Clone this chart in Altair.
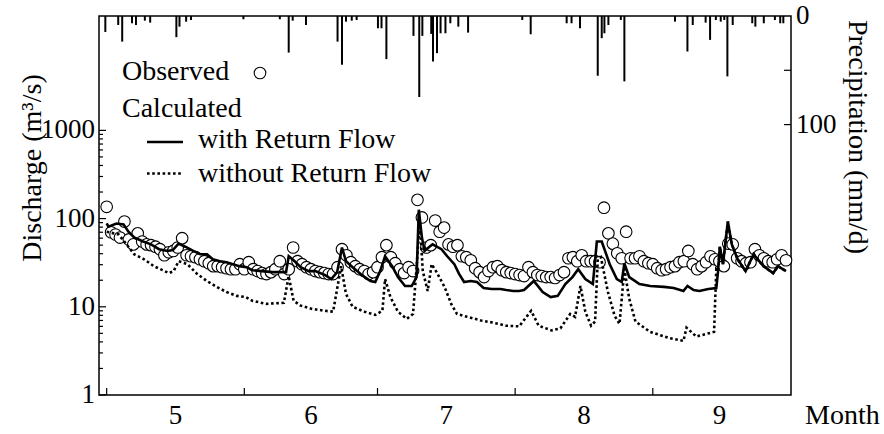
import altair as alt
import pandas as pd

FONT = "Liberation Serif"

# ---------------- data (day 0 = 1 May) ----------------
obs_day = list(range(0, 154))
obs_q = [136, 70, 66, 61, 92.5, 58, 51, 68, 55, 51, 50, 48, 45, 38.4, 41.5, 43, 47, 60, 38.4, 37.4,
         36.5, 34.6, 32.9, 31.2, 28.9, 28.9, 28.1, 27.4, 26.7, 26.7, 30.4,
         26.7, 32, 26.7, 25.4, 24.1, 23.5, 24.7, 26.7, 32.9, 23.5, 26.7, 47, 32.9, 30.4, 28.1,
         26.7, 25.4, 24.7, 24.1, 23.5, 23.5, 28.1, 45, 38.4, 32, 28.9, 26.7, 25.4, 23.5, 24.7,
         28.1, 36.5, 50, 36.5, 31.2, 26.7, 24.1, 28.1, 25.4, 163, 103, 47, 50, 95, 71, 79,
         51, 48, 50, 37.4, 36.5, 33.7, 27.4, 24.7, 21.7, 25.4, 28.1, 28.9, 26, 24.7, 24.1,
         23.5, 22.9, 22.3, 28.1, 24.7, 22.9, 22.3, 21.7, 21.7, 21.2, 22.9, 24.7, 35.5, 36.5, 32.9,
         38.4, 32.9, 32.9, 32.9, 32, 133, 68, 52, 40.4, 35.5, 71, 35.5, 35.5, 37.4, 32.9, 31.2,
         30.4, 27.4, 26, 26.7, 28.1, 28.9, 32, 32.9, 43, 30.4, 26.7, 28.9, 32, 37.4, 34.6, 32.9,
         28.9, 52, 51, 35.5, 32.9, 31.2, 32, 45, 38.4, 35.5, 32.9, 32, 34.6, 38.4, 33.7]

with_day = [0, 0.4, 2.2, 3.8, 4.9, 6.2, 8.2, 10, 11.8, 13.7, 14.9, 16.2, 17.7, 19.5, 21.1,
            22.6, 23.9, 25.5, 27, 28.4, 29.9, 31.5, 32.8, 35, 37.3, 40.4, 41, 42.1, 43.7, 45.5,
            47, 49.2, 50.6, 51.9, 53, 53.9, 55.4, 57.2, 59.4, 60.5, 61.6, 62.7, 64.3, 65.6, 67.2,
            68.7, 69.8, 70.3, 71, 71.6, 72.7, 73.4, 75.4, 76.7, 78.3, 79.4, 80.5, 82, 83.4, 84.9,
            86.7, 88.7, 90, 91.6, 92.9, 94, 96.2, 98.2, 100, 101.6, 103.3, 104.9, 106.2, 107.8, 109.5,
            110.4, 111.5, 113.3, 114.9, 116, 116.6, 117.7, 120, 122.4, 125.5, 127.7, 129.9, 130.8,
            132.2, 133.5, 135.5, 137.3, 137.7, 138.1, 138.8, 139.9, 140.8, 142.1, 143.9, 145.7,
            147.9, 150.1, 151.2, 153]
with_q = [88, 81, 88, 86, 71, 61, 55, 51, 45, 43, 44, 52, 48, 43, 39.4, 39.4, 34.6, 32.9, 32,
          30.4, 28.9, 28.1, 26, 25.4, 24.7, 24.7, 37.4, 33.7, 28.1, 25.4, 25.4, 22.9, 20.6, 24.7,
          47, 32.9, 28.1, 23.5, 19.6, 19.1, 25.4, 37.4, 28.9, 21.7, 17.2, 17.2, 21.7, 126, 61, 43,
          48, 51, 45, 37.4, 30.4, 23.5, 19.1, 19.6, 19.1, 16.3, 15.9, 15.9, 15.5, 15.1, 15.1, 15.5,
          19.6, 14.7, 12.9, 13.3, 18.1, 21.7, 26.7, 20.6, 18.1, 55, 55, 30.4, 20.6, 19.1, 31, 21.7,
          18.1, 17.2, 16.8, 16.3, 15.1, 17.2, 15.5, 15.1, 15.9, 16.3, 25.4, 48, 30.4, 92.5, 51,
          34.6, 25.4, 39.4, 28.9, 24.1, 28.9, 25.4]

wo_day = [0, 2.7, 4.9, 6.2, 8.4, 10.6, 12.6, 14, 15.1, 16.2, 18.2, 20.4, 22.6, 24.8, 27, 29.3,
          31.3, 32.8, 35.9, 39.9, 41, 42.1, 43.7, 46.1, 49.2, 51, 52.1, 52.8, 53.9, 55.4, 58.1,
          60.5, 62.1, 62.7, 63.9, 65.6, 67.6, 69, 69.8, 70.5, 71.2, 72.3, 73.2, 74.3, 76.1, 77.6,
          78.9, 81.2, 84.3, 87.1, 90, 92.9, 95.6, 97.3, 100.2, 102.2, 104.4, 105.5, 106.7, 107.8,
          109.1, 110, 110.6, 111.3, 112.9, 114.4, 115.5, 116.6, 117.7, 119.1, 122.4, 126.8, 129.9,
          130.6, 132.8, 136.8, 137.3, 137.7, 138.1, 138.8, 139.9, 140.8, 142.1, 143.9, 145.7,
          147.9, 150.1, 151.2, 153]
wo_q = [71, 66, 48, 39.4, 34.6, 28.9, 26, 24.1, 25.4, 32.9, 30.4, 23.5, 19.6, 16.8, 14.7, 13.3,
        12.9, 11.7, 10.8, 11.1, 22.3, 11.7, 10.3, 9.5, 9.0, 8.8, 18.1, 28.9, 14, 10, 8.8, 8.1, 9.0,
        20.6, 12.9, 8.8, 7.3, 8.3, 28.1, 97, 25.4, 15.1, 30.4, 24.7, 16.8, 10.8, 8.3, 7.7, 7.0, 6.6,
        6.1, 6.0, 9.0, 6.1, 5.4, 5.7, 8.3, 7.7, 17.2, 8.8, 6.1, 6.8, 34.6, 36.5, 14.7, 7.9, 6.4,
        26.7, 12.3, 6.8, 5.2, 4.4, 4.1, 5.8, 4.6, 5.2, 26.7, 25.4, 48, 30.4, 92.5, 51, 34.6, 25.4,
        39.4, 28.9, 24.1, 28.9, 25.4]

p_day = [-0.3, 2.6, 3.5, 5.7, 6.6, 8.6, 9.8, 15.7, 16.4, 17.9, 19.0, 30.8, 39.0, 41.0, 41.9, 44.9,
         52.0, 53.0, 53.9, 55.2, 56.3, 61.1, 61.9, 63.0, 69.1, 70.4, 71.1, 73.1, 73.5, 74.4, 75.2,
         76.3, 77.4, 79.2, 81.4, 93.6, 95.5, 103.6, 104.7, 106.6, 110.6, 111.5, 112.1, 113.0,
         115.8, 116.6, 128.0, 130.8, 132.0, 134.9, 135.9, 137.2, 138.3, 139.1, 139.8, 141.0,
         145.4, 146.1, 148.0, 150.5, 151.7, 152.4]
p_mm = [14.7, 8.3, 23.6, 6.7, 8.3, 4.3, 6.1, 19.5, 9.8, 5.2, 3.7, 3.0, 3.0, 33.7, 4.3, 8.3, 23.6,
        44.9, 5.2, 4.3, 3.7, 11.3, 11.3, 39.7, 18.3, 74.6, 18.3, 16.5, 41.9, 34.2, 15.9, 15.9, 6.7,
        9.8, 15.3, 3.7, 16.8, 6.7, 6.7, 11.3, 55, 20.4, 15.9, 8.3, 3.7, 60.2, 5.2, 32.7, 8.3, 6.1,
        22, 3.7, 5.2, 3.7, 55.6, 8.3, 6.7, 9.8, 6.7, 3.7, 6.7, 6.7]

month_start = [0, 31, 61, 92, 123]
month_mid = [15.5, 46, 76.5, 107.5, 138]
month_lbl = ["5", "6", "7", "8", "9"]

q_major = [1, 10, 100, 1000]
q_major_lbl = ["1", "10", "100", "1000"]
q_minor = [m * d for d in (1, 10, 100) for m in range(2, 10)]
p_ticks = [50, 100]
p_lbl_val = [0, 100]
p_lbl = ["0", "100"]

# ---------------- scales ----------------
W, H = 692, 379
xs = alt.Scale(domain=[-0.6, 153], nice=False, zero=False)
ys = alt.Scale(type="log", domain=[1, 19800], nice=False)
ps = alt.Scale(domain=[0, 349], reverse=True, nice=False, zero=False)

obs = pd.DataFrame({"d": obs_day, "q": obs_q})
wf = pd.DataFrame({"d": with_day, "q": with_q})
wo = pd.DataFrame({"d": wo_day, "q": wo_q})
pr = pd.DataFrame({"d": p_day, "p": p_mm})
months = pd.DataFrame({"d": month_mid, "m": month_lbl})
mstart = pd.DataFrame({"d": month_start})
qmaj = pd.DataFrame({"q": q_major, "t": q_major_lbl})
qmin = pd.DataFrame({"q": q_minor})
pt = pd.DataFrame({"p": p_ticks})
plab = pd.DataFrame({"p": p_lbl_val, "t": p_lbl})

X = alt.X("d:Q", scale=xs, axis=None)
YQ = alt.Y("q:Q", scale=ys, axis=None)
YP = alt.Y("p:Q", scale=ps, axis=None)

circles = alt.Chart(obs).mark_circle(
    fill="white", stroke="black", strokeWidth=1.1, size=135, opacity=1
).encode(x=X, y=YQ)

solid = alt.Chart(wf).mark_line(color="black", strokeWidth=2.6).encode(x=X, y=YQ)
dotted = alt.Chart(wo).mark_line(color="black", strokeWidth=2.6, strokeDash=[2.6, 2.6]).encode(x=X, y=YQ)

tmaj = alt.Chart(qmaj).mark_rule(color="black", strokeWidth=1.2).encode(
    y=YQ, x=alt.value(0), x2=alt.value(7))
tmin = alt.Chart(qmin).mark_rule(color="black", strokeWidth=1.2).encode(
    y=YQ, x=alt.value(0), x2=alt.value(4))
qlab = alt.Chart(qmaj).mark_text(font=FONT, fontSize=27, color="black", align="right",
                                 baseline="middle").encode(y=YQ, x=alt.value(-4), text="t:N")
tbot = alt.Chart(mstart).mark_rule(color="black", strokeWidth=1.2).encode(
    x=X, y=alt.value(H), y2=alt.value(H - 7))

mlab = alt.Chart(months).mark_text(font=FONT, fontSize=27, color="black", baseline="alphabetic").encode(
    x=X, y=alt.value(H + 29), text="m:N")


def label(txt, x, y, angle=0, align="left", baseline="alphabetic", size=28):
    return alt.Chart(pd.DataFrame({"t": [txt]})).mark_text(
        font=FONT, fontSize=size, color="black", align=align, baseline=baseline, angle=angle
    ).encode(x=alt.value(x), y=alt.value(y), text="t:N")


texts = [
    label("Month", 706, H + 29),
    label("Discharge (m³/s)", -66, 152, angle=270, align="center", baseline="middle"),
    label("Precipitation (mm/d)", 758, 121, angle=90, align="center", baseline="middle"),
    label("Observed", 23, 63.5),
    label("Calculated", 23, 100.5),
    label("with Return Flow", 99, 131.5),
    label("without Return Flow", 99, 165.5),
]

one = pd.DataFrame({"k": [0]})
leg_circle = alt.Chart(one).mark_circle(
    fill="white", stroke="black", strokeWidth=1.1, size=135, opacity=1
).encode(x=alt.value(161), y=alt.value(57))
leg_solid = alt.Chart(one).mark_rule(color="black", strokeWidth=2.6).encode(
    x=alt.value(48), x2=alt.value(84), y=alt.value(126))
leg_dot = alt.Chart(one).mark_rule(color="black", strokeWidth=2.6, strokeDash=[2.6, 2.6]).encode(
    x=alt.value(48), x2=alt.value(82), y=alt.value(157.5))

left = alt.layer(circles, solid, dotted, tmaj, tmin, qlab, tbot, mlab,
                 leg_circle, leg_solid, leg_dot, *texts)

bars = alt.Chart(pr).mark_bar(color="black", size=2).encode(x=X, y=YP)
rt = alt.Chart(pt).mark_rule(color="black", strokeWidth=1.2).encode(
    y=YP, x=alt.value(W), x2=alt.value(W - 7))
rlab = alt.Chart(plab).mark_text(font=FONT, fontSize=27, color="black", align="left",
                                 baseline="middle").encode(y=YP, x=alt.value(W + 5), text="t:N")
right = alt.layer(bars, rt, rlab)

chart = alt.layer(left, right).resolve_scale(y="independent").properties(
    width=W, height=H,
    padding={"left": 99, "top": 16, "right": 93, "bottom": 39},
    autosize=alt.AutoSizeParams(type="none"),
    background="white",
).configure_view(stroke="black", strokeWidth=1.5)

chart.save("out.html", embed_options={"renderer": "svg", "actions": False})
